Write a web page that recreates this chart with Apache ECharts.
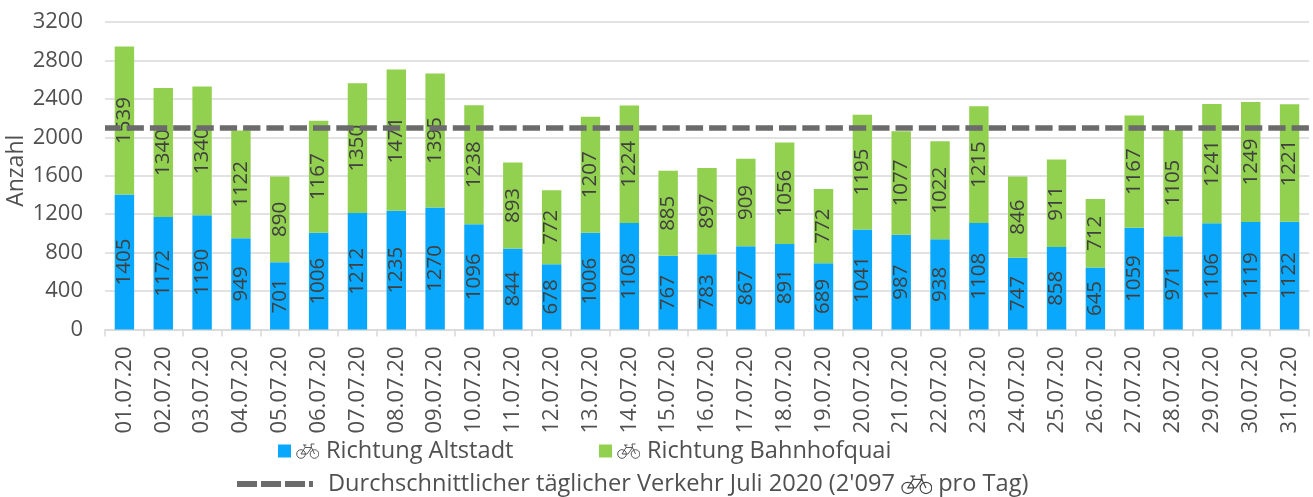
<!DOCTYPE html>
<html><head><meta charset="utf-8">
<style>html,body{margin:0;padding:0;background:#fff}#c{width:1313px;height:497px}</style>
<script src="https://cdn.jsdelivr.net/npm/echarts@6/dist/echarts.min.js"></script>
</head><body><div id="c"></div>
<script>
const categories = ["01.07.20","02.07.20","03.07.20","04.07.20","05.07.20","06.07.20","07.07.20","08.07.20","09.07.20","10.07.20","11.07.20","12.07.20","13.07.20","14.07.20","15.07.20","16.07.20","17.07.20","18.07.20","19.07.20","20.07.20","21.07.20","22.07.20","23.07.20","24.07.20","25.07.20","26.07.20","27.07.20","28.07.20","29.07.20","30.07.20","31.07.20"];
const altstadt = [1405,1172,1190,949,701,1006,1212,1235,1270,1096,844,678,1006,1108,767,783,867,891,689,1041,987,938,1108,747,858,645,1059,971,1106,1119,1122];
const bahnhofquai = [1539,1340,1340,1122,890,1167,1350,1471,1395,1238,893,772,1207,1224,885,897,909,1056,772,1195,1077,1022,1215,846,911,712,1167,1105,1241,1249,1221];
const average = 2097;
const nameA = "Richtung Altstadt", nameB = "Richtung Bahnhofquai", nameAvg = "Durchschnitt";
const FONT = "Open Sans";
const TXT = "#505050";
const LEG = 23.6;
const bikeSvg = "<svg xmlns='http://www.w3.org/2000/svg' width='92' height='64' viewBox='0 0 23 16'><g fill='none' stroke='#454545' stroke-width='0.9'><circle cx='5' cy='11' r='4.3'/><circle cx='18.5' cy='11' r='4.3'/><path d='M5 11 L9 4.5 L15.5 4.5 L11 11 Z M15.5 4.5 L18.5 11 M7 2 L10.5 2 M8.6 2 L9 4.5 M15.5 4.5 L15 1 L18.5 1'/></g></svg>";
const bikeUri = "data:image/svg+xml;charset=utf-8," + encodeURIComponent(bikeSvg);
const rich = {
  t:{fontFamily:FONT,fontSize:LEG,color:TXT},
  bike:{width:23,height:16,backgroundColor:{image:bikeUri}},
  bigbike:{width:31,height:21,backgroundColor:{image:bikeUri}},
  sp:{width:7,height:16},
  sp2:{width:10,height:16}
};
const dashIcon = "path://M0 0H20V6H0Z M24 0H44V6H24Z M48 0H68V6H48Z M72 0H76V6H72Z";
function segLabel(){ return { show:true, position:"inside", rotate:90, color:"#404040", fontFamily:FONT, fontSize:20.5, align:"center", verticalAlign:"middle" }; }
function bikeLegend(n,left){ return {data:[n],left:left,top:439,padding:0,itemWidth:13,itemHeight:13,icon:"rect",
  textStyle:{fontFamily:FONT,fontSize:LEG,color:TXT,rich:rich},formatter:x=>"{bike|}{sp|}{t|"+x+"}"}; }
const chart = echarts.init(document.getElementById("c"), null, {renderer:"canvas"});
chart.setOption({
  animation:false,
  textStyle:{fontFamily:FONT},
  grid:{left:105,right:4,top:22,bottom:167.5,outerBoundsMode:"none"},
  legend:[
    bikeLegend(nameA,278),
    bikeLegend(nameB,599),
    {data:[{name:nameAvg,icon:dashIcon}],left:237,top:472,padding:0,itemWidth:76,itemHeight:6,
     textStyle:{fontFamily:FONT,fontSize:LEG,color:TXT,rich:rich},
     formatter:()=>"{sp2|}{t|Durchschnittlicher täglicher Verkehr Juli 2020 (2'097 }{bigbike|}{t| pro Tag)}"}
  ],
  xAxis:{type:"category",data:categories,
    axisLine:{lineStyle:{color:"#d9d9d9",width:1.5}},
    axisTick:{show:true,length:7,lineStyle:{color:"#d9d9d9",width:1.5}},
    axisLabel:{rotate:90,color:TXT,fontFamily:FONT,fontSize:22,margin:17,interval:0}},
  yAxis:{type:"value",min:0,max:3200,interval:400,
    name:"Anzahl",nameLocation:"middle",nameGap:77,nameMoveOverlap:false,nameTextStyle:{color:TXT,fontFamily:FONT,fontSize:23,padding:[0,0,0,10]},
    axisLine:{show:false},axisTick:{show:false},
    splitLine:{lineStyle:{color:"#d9d9d9",width:1.5}},
    axisLabel:{color:TXT,fontFamily:FONT,fontSize:22,margin:22,formatter:v=>String(v)}},
  series:[
    {name:nameA,type:"bar",stack:"t",data:altstadt,barWidth:"50%",itemStyle:{color:"#0aa8fc"},label:segLabel()},
    {name:nameB,type:"bar",stack:"t",data:bahnhofquai,barWidth:"50%",itemStyle:{color:"#92d14f"},label:segLabel()},
    {name:nameAvg,type:"line",z:20,data:[],symbol:"none",itemStyle:{color:"#6b6b6b"},lineStyle:{color:"#6b6b6b",width:6},
     markLine:{silent:true,symbol:"none",label:{show:false},z:20,animation:false,
       lineStyle:{color:"#6b6b6b",width:5.7,type:[17.3,6],dashOffset:1.7},data:[{yAxis:average}]}}
  ]
});
</script></body></html>
